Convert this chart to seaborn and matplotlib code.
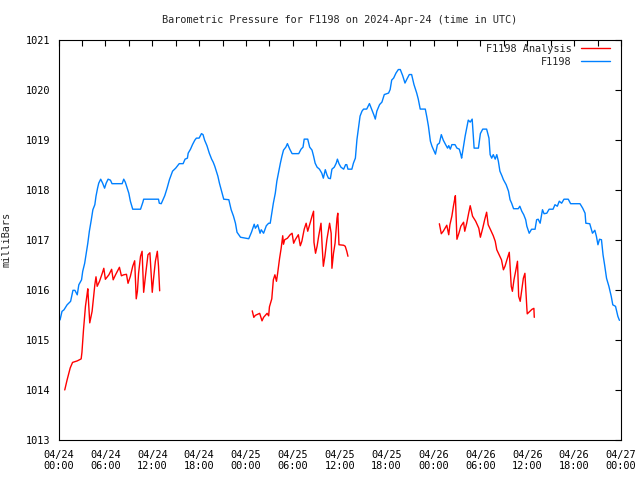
import pandas as pd
import matplotlib
matplotlib.use("Agg")
import matplotlib.pyplot as plt
import matplotlib.dates as mdates
from matplotlib.lines import Line2D
import seaborn as sns


# Data (hours after 2024-04-24 00:00 UTC, pressure in mb)

blue_hours = [
    0.0, 0.2, 0.45, 0.7, 1.1, 1.55, 1.85, 2.1, 2.4, 2.6, 2.95, 3.1, 3.35, 3.55,
    3.75, 3.95, 4.2, 4.4, 4.65, 4.8, 5.0, 5.15, 5.4, 5.65, 5.9, 6.1, 6.35, 6.65,
    6.85, 8.15, 8.35, 8.55, 8.8, 9.0, 9.2, 9.5, 10.5, 10.8, 10.9, 12.8, 12.9,
    13.15, 13.35, 13.6, 13.9, 14.2, 14.6, 15.0, 15.45, 15.95, 16.2, 16.5, 16.6,
    16.9, 17.15, 17.45, 17.65, 18.0, 18.3, 18.5, 18.7, 19.0, 19.3, 19.6, 19.8,
    20.0, 20.2, 20.4, 20.6, 20.95, 21.15, 21.8, 22.1, 22.4, 22.65, 22.85, 23.3,
    24.35, 24.7, 25.05, 25.2, 25.5, 25.8, 25.95, 26.25, 26.6, 26.9, 27.1, 27.3,
    27.5, 27.75, 27.95, 28.15, 28.4, 28.6, 28.8, 29.1, 29.3, 29.6, 29.9, 30.75,
    31.05, 31.3, 31.45, 31.9, 32.15, 32.45, 32.65, 32.85, 33.1, 33.4, 33.7,
    33.9, 34.15, 34.35, 34.55, 34.8, 35.0, 35.3, 35.55, 35.7, 35.9, 36.15, 36.5,
    36.75, 36.9, 37.05, 37.55, 37.75, 38.0, 38.2, 38.4, 38.6, 38.85, 39.05,
    39.45, 39.8, 40.1, 40.4, 40.55, 40.75, 41.1, 41.4, 41.7, 42.25, 42.45,
    42.65, 42.9, 43.2, 43.5, 43.75, 44.05, 44.35, 44.6, 44.9, 45.2, 45.5, 45.85,
    46.05, 46.3, 46.95, 47.15, 47.35, 47.6, 47.8, 48.0, 48.25, 48.5, 48.75,
    49.0, 49.25, 49.55, 49.8, 49.95, 50.15, 50.35, 50.75, 51.0, 51.3, 51.5,
    51.6, 51.85, 52.05, 52.25, 52.45, 52.7, 52.95, 53.1, 53.2, 53.75, 54.0,
    54.3, 54.8, 55.1, 55.25, 55.45, 55.65, 55.9, 56.1, 56.3, 56.5, 56.75, 56.95,
    57.3, 57.6, 57.8, 58.0, 58.25, 58.85, 59.05, 59.3, 59.55, 59.8, 59.95,
    60.25, 60.55, 61.0, 61.2, 61.4, 61.65, 61.95, 62.15, 62.5, 62.8, 63.3,
    63.55, 63.85, 64.1, 64.4, 64.7, 65.25, 65.55, 66.75, 67.1, 67.4, 67.5,
    68.0, 68.35, 68.65, 68.85, 69.05, 69.25, 69.5, 69.7, 69.9, 70.15, 70.45,
    70.75, 70.95, 71.3, 71.6, 71.8,
]
blue_mb = [
    1015.4, 1015.4, 1015.57, 1015.6, 1015.7, 1015.77, 1015.99, 1015.99, 1015.9,
    1016.1, 1016.2, 1016.37, 1016.53, 1016.73, 1016.93, 1017.17, 1017.4, 1017.6,
    1017.7, 1017.87, 1018.03, 1018.13, 1018.21, 1018.13, 1018.03, 1018.13,
    1018.21, 1018.19, 1018.12, 1018.12, 1018.21, 1018.15, 1018.03, 1017.93,
    1017.77, 1017.61, 1017.61, 1017.75, 1017.81, 1017.81, 1017.73, 1017.72,
    1017.79, 1017.88, 1018.03, 1018.2, 1018.37, 1018.43, 1018.52, 1018.52,
    1018.61, 1018.63, 1018.73, 1018.81, 1018.9, 1018.99, 1019.03, 1019.03,
    1019.12, 1019.1, 1018.99, 1018.88, 1018.73, 1018.61, 1018.55, 1018.47,
    1018.37, 1018.27, 1018.13, 1017.93, 1017.81, 1017.8, 1017.6, 1017.47,
    1017.33, 1017.15, 1017.05, 1017.02, 1017.15, 1017.31, 1017.23, 1017.3,
    1017.13, 1017.2, 1017.13, 1017.28, 1017.33, 1017.33, 1017.53, 1017.73,
    1017.93, 1018.17, 1018.33, 1018.53, 1018.67, 1018.79, 1018.85, 1018.92,
    1018.81, 1018.72, 1018.72, 1018.81, 1018.85, 1019.01, 1019.01, 1018.85,
    1018.79, 1018.67, 1018.53, 1018.45, 1018.41, 1018.33, 1018.23, 1018.4,
    1018.3, 1018.23, 1018.22, 1018.41, 1018.45, 1018.53, 1018.61, 1018.52,
    1018.45, 1018.41, 1018.5, 1018.5, 1018.41, 1018.41, 1018.53, 1018.63,
    1019.0, 1019.23, 1019.47, 1019.57, 1019.61, 1019.61, 1019.72, 1019.6,
    1019.48, 1019.41, 1019.57, 1019.7, 1019.75, 1019.9, 1019.93, 1020.0,
    1020.19, 1020.23, 1020.33, 1020.4, 1020.4, 1020.28, 1020.13, 1020.21,
    1020.3, 1020.3, 1020.1, 1019.93, 1019.81, 1019.61, 1019.61, 1019.45,
    1019.27, 1018.97, 1018.87, 1018.8, 1018.71, 1018.9, 1018.93, 1019.1,
    1018.99, 1018.9, 1018.83, 1018.88, 1018.81, 1018.9, 1018.9, 1018.83,
    1018.81, 1018.7, 1018.63, 1018.88, 1019.07, 1019.23, 1019.39, 1019.35,
    1019.41, 1019.05, 1018.83, 1018.83, 1019.12, 1019.21, 1019.21, 1019.03,
    1018.7, 1018.63, 1018.7, 1018.61, 1018.7, 1018.57, 1018.37, 1018.28,
    1018.2, 1018.1, 1017.97, 1017.8, 1017.73, 1017.62, 1017.62, 1017.67,
    1017.57, 1017.5, 1017.4, 1017.27, 1017.13, 1017.21, 1017.21, 1017.4,
    1017.41, 1017.33, 1017.6, 1017.52, 1017.53, 1017.61, 1017.61, 1017.7,
    1017.67, 1017.77, 1017.73, 1017.81, 1017.81, 1017.72, 1017.72, 1017.63,
    1017.53, 1017.33, 1017.32, 1017.13, 1017.19, 1017.07, 1016.9, 1017.01,
    1017.0, 1016.7, 1016.5, 1016.23, 1016.07, 1015.87, 1015.7, 1015.67,
    1015.47, 1015.39,
]

# Analysis series, three separate runs
red1_hours = [
    0.8, 1.1, 1.5, 1.8, 2.4, 2.9, 3.0, 3.2, 3.45, 3.65, 3.75, 4.0, 4.3, 4.5,
    4.65, 4.8, 4.95, 5.25, 5.6, 5.8, 6.0, 6.45, 6.8, 7.0, 7.3, 7.8, 8.05, 8.35,
    8.7, 8.9, 9.2, 9.5, 9.75, 9.95, 10.1, 10.25, 10.5, 10.7, 10.9, 11.2, 11.45,
    11.7, 12.0, 12.15, 12.4, 12.65, 12.8, 12.95,
]
red1_mb = [
    1014.0, 1014.2, 1014.44, 1014.55, 1014.58, 1014.62, 1014.75, 1015.2,
    1015.67, 1015.9, 1016.02, 1015.34, 1015.57, 1015.87, 1016.1, 1016.26,
    1016.07, 1016.17, 1016.33, 1016.43, 1016.21, 1016.3, 1016.41, 1016.2,
    1016.3, 1016.45, 1016.28, 1016.3, 1016.31, 1016.13, 1016.27, 1016.47,
    1016.58, 1015.82, 1015.97, 1016.33, 1016.67, 1016.77, 1015.95, 1016.37,
    1016.7, 1016.74, 1015.95, 1016.2, 1016.57, 1016.77, 1016.47, 1015.98,
]

red2_hours = [
    24.8, 25.0, 25.2, 25.75, 26.05, 26.25, 26.7, 26.9, 27.0, 27.3, 27.5, 27.7,
    27.9, 28.05, 28.3, 28.5, 28.7, 28.8, 28.95, 29.3, 29.65, 29.9, 30.1, 30.3,
    30.7, 30.95, 31.15, 31.45, 31.7, 31.9, 32.2, 32.45, 32.65, 32.7, 32.9, 33.1,
    33.3, 33.6, 33.75, 33.9, 34.1, 34.35, 34.7, 34.9, 35.0, 35.2, 35.4, 35.65,
    35.75, 35.9, 36.5, 36.7, 36.9, 37.05,
]
red2_mb = [
    1015.58, 1015.45, 1015.49, 1015.53, 1015.38, 1015.45, 1015.53, 1015.48,
    1015.66, 1015.82, 1016.2, 1016.3, 1016.17, 1016.33, 1016.63, 1016.83,
    1017.08, 1016.91, 1017.0, 1017.03, 1017.1, 1017.13, 1016.93, 1017.0,
    1017.1, 1016.88, 1016.97, 1017.21, 1017.33, 1017.17, 1017.33, 1017.47,
    1017.57, 1016.95, 1016.73, 1016.87, 1017.07, 1017.33, 1016.87, 1016.47,
    1016.67, 1017.0, 1017.33, 1017.13, 1016.43, 1016.73, 1016.93, 1017.43,
    1017.53, 1016.9, 1016.89, 1016.87, 1016.77, 1016.67,
]

red3_hours = [
    48.75, 49.0, 49.25, 49.7, 49.95, 50.1, 50.35, 50.55, 50.7, 50.8, 51.0,
    51.25, 51.5, 51.85, 52.0, 52.25, 52.5, 52.7, 53.0, 53.4, 53.6, 53.8, 54.0,
    54.3, 54.55, 54.8, 55.0, 55.3, 55.65, 55.9, 56.1, 56.4, 56.7, 56.95, 57.15,
    57.4, 57.7, 57.95, 58.1, 58.3, 58.55, 58.75, 58.9, 59.1, 59.3, 59.5, 59.7,
    59.95, 60.0, 60.6, 60.85, 60.9,
]
red3_mb = [
    1017.32, 1017.12, 1017.17, 1017.29, 1017.1, 1017.3, 1017.47, 1017.67,
    1017.8, 1017.88, 1017.01, 1017.13, 1017.27, 1017.35, 1017.17, 1017.33,
    1017.53, 1017.68, 1017.47, 1017.37, 1017.3, 1017.23, 1017.05, 1017.23,
    1017.4, 1017.55, 1017.3, 1017.2, 1017.08, 1016.97, 1016.8, 1016.7, 1016.6,
    1016.4, 1016.47, 1016.6, 1016.75, 1016.07, 1015.97, 1016.2, 1016.4,
    1016.57, 1015.87, 1015.77, 1016.0, 1016.23, 1016.33, 1015.63, 1015.52,
    1015.61, 1015.63, 1015.45,
]

start = pd.Timestamp("2024-04-24 00:00")


def to_frame(hours, mb, seg=0):
    return pd.DataFrame({
        "time": start + pd.to_timedelta(hours, unit="h"),
        "pressure": mb,
        "segment": seg,
    })


blue_df = to_frame(blue_hours, blue_mb)
red_df = pd.concat([
    to_frame(red1_hours, red1_mb, 1),
    to_frame(red2_hours, red2_mb, 2),
    to_frame(red3_hours, red3_mb, 3),
])

red_color = "#ff0000"
blue_color = "#0080ff"

sns.set_style("white")
plt.rcParams["font.family"] = ["DejaVu Sans Mono"]

fig = plt.figure(figsize=(6.4, 4.8), dpi=100)
ax = fig.add_axes([58.5 / 640, 40 / 480, 562.5 / 640, 400.5 / 480])

sns.lineplot(data=red_df, x="time", y="pressure", units="segment",
             estimator=None, sort=False, color=red_color, linewidth=1, ax=ax)
sns.lineplot(data=blue_df, x="time", y="pressure", estimator=None,
             sort=False, color=blue_color, linewidth=1, ax=ax)

ax.set_xlim(start, start + pd.Timedelta(hours=72))
ax.set_ylim(1013, 1021)
ax.set_yticks(range(1013, 1022))

ax.xaxis.set_major_locator(mdates.HourLocator(byhour=range(0, 24, 6)))
ax.xaxis.set_minor_locator(mdates.HourLocator(byhour=range(0, 24, 3)))
ax.xaxis.set_major_formatter(mdates.DateFormatter("%m/%d\n%H:%M"))

ax.tick_params(which="both", direction="in", top=True, right=True,
               labelsize=7.4, colors="black", width=0.8)
ax.tick_params(which="major", length=4, pad=6)
ax.tick_params(which="minor", length=4)
ax.tick_params(axis="x", which="major", pad=7)
for spine in ax.spines.values():
    spine.set_visible(True)
    spine.set_color("black")
    spine.set_linewidth(0.8)

ax.set_xlabel("")
ax.set_ylabel("milliBars", fontsize=7.4)
ax.yaxis.set_label_coords(-0.084, 0.5)

fig.text(339.75 / 640, 1 - 20 / 480,
         "Barometric Pressure for F1198 on 2024-Apr-24 (time in UTC)",
         ha="center", va="center", fontsize=7.4)

handles = [
    Line2D([], [], color=red_color, linewidth=1),
    Line2D([], [], color=blue_color, linewidth=1),
]
ax.legend(handles, ["F1198 Analysis", "F1198"], loc="upper right",
          bbox_to_anchor=(610 / 640, 1 - 44 / 480),
          bbox_transform=fig.transFigure, frameon=False, markerfirst=False,
          fontsize=7.4, handlelength=2.8, handletextpad=0.9,
          labelspacing=0.25, borderpad=0, borderaxespad=0)

fig.savefig("out.png", dpi=100)
